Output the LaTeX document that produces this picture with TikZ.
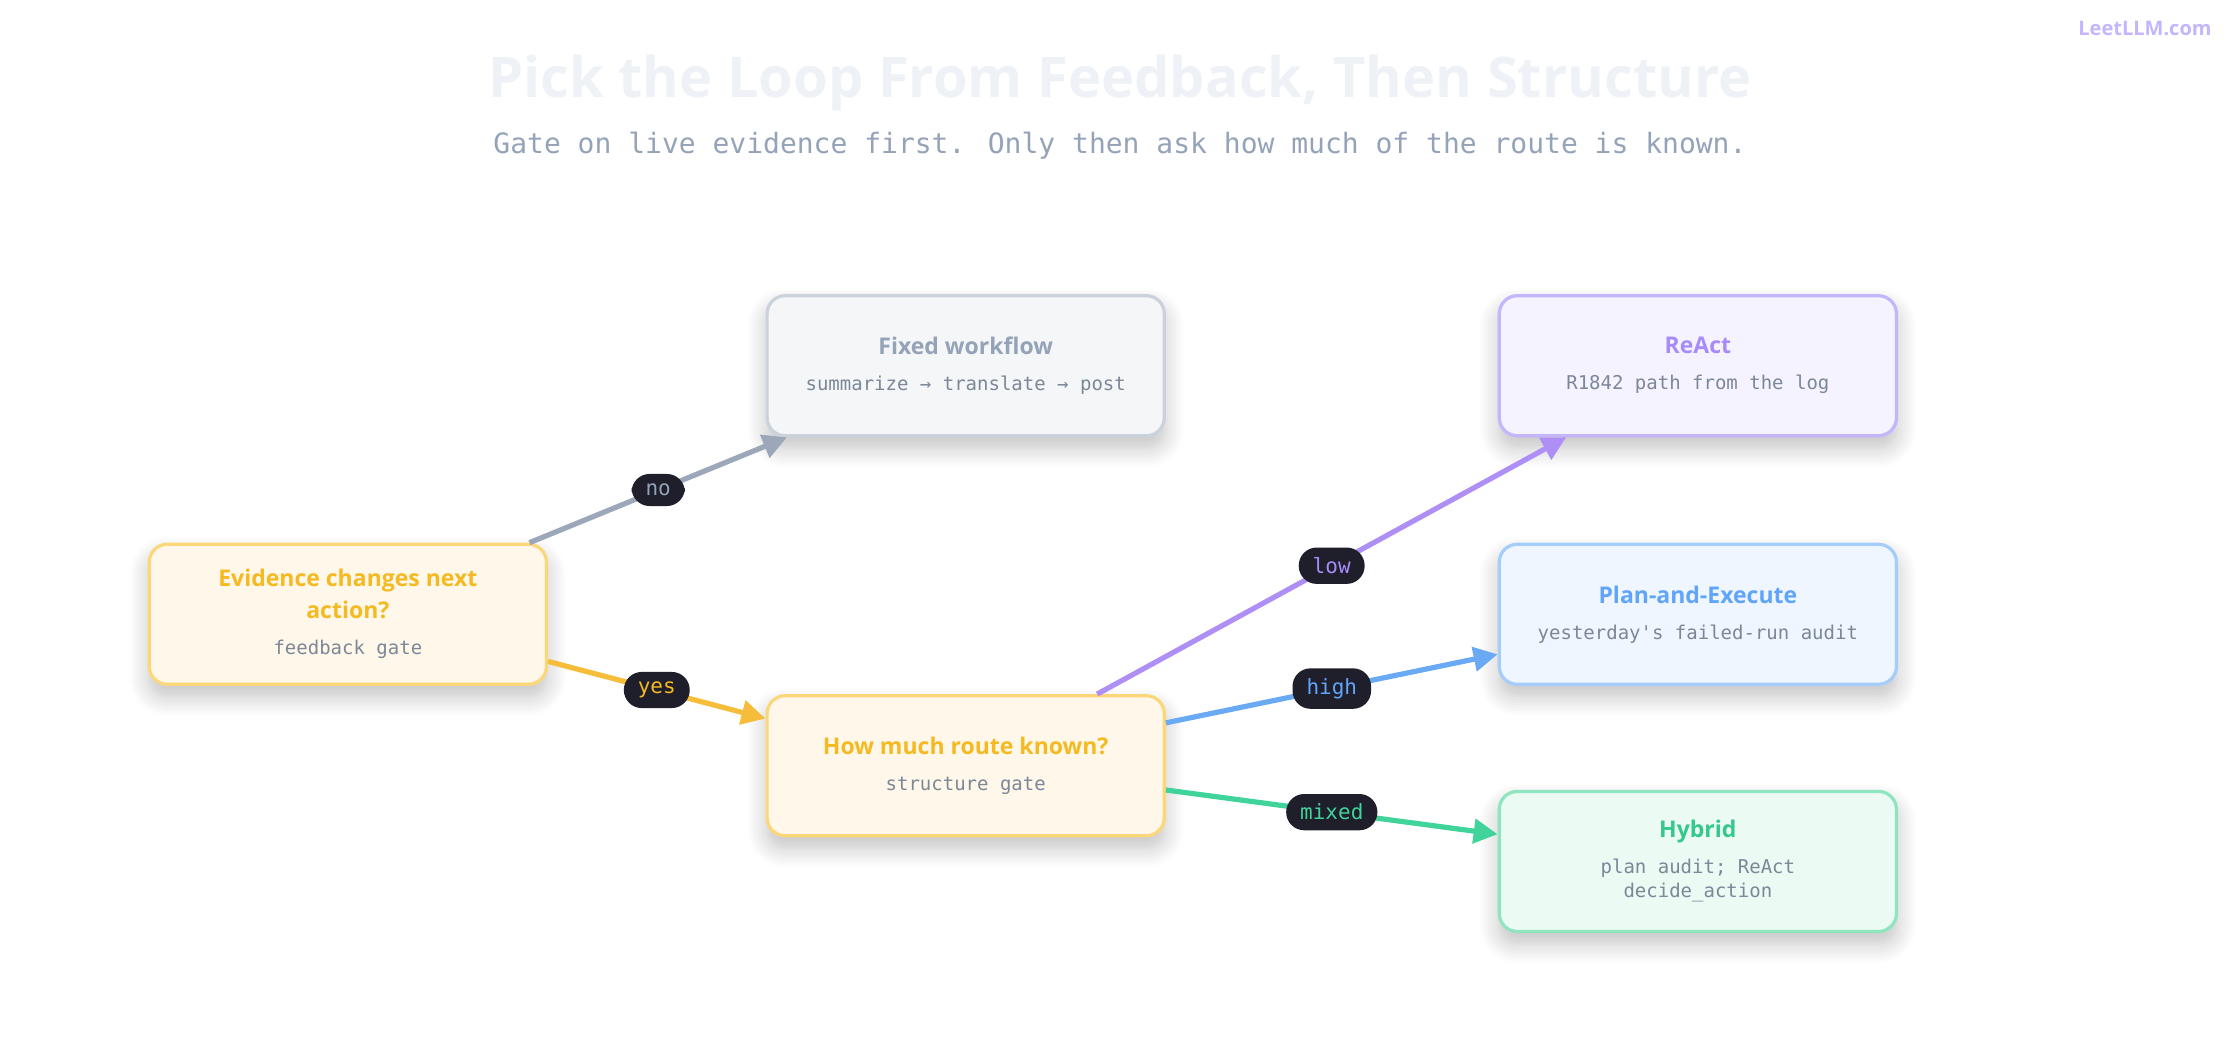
\documentclass[tikz,border=0pt]{standalone}
\usepackage{fontspec}
\setmainfont{Open Sans}
\newfontfamily\mono{DejaVu Sans Mono}
\usetikzlibrary{calc,shadows.blur,arrows.meta}
\definecolor{ttl}{HTML}{EEF2F7}
\definecolor{sub}{HTML}{94A3B8}
\definecolor{ylf}{HTML}{FFF8EA}\definecolor{yls}{HTML}{FCD77A}\definecolor{ylt}{HTML}{F5B921}\definecolor{yle}{HTML}{F5BD3A}
\definecolor{grf}{HTML}{F4F6F8}\definecolor{grs}{HTML}{CBD2DC}\definecolor{grt}{HTML}{94A3B8}\definecolor{gre}{HTML}{9CA8B9}
\definecolor{puf}{HTML}{F5F3FF}\definecolor{pus}{HTML}{C4B5FD}\definecolor{put}{HTML}{A78BFA}\definecolor{pue}{HTML}{AD8FF5}
\definecolor{blf}{HTML}{EFF6FF}\definecolor{bls}{HTML}{A5CDFA}\definecolor{blt}{HTML}{60A5FA}\definecolor{ble}{HTML}{6AAAF4}
\definecolor{gnf}{HTML}{ECFAF4}\definecolor{gns}{HTML}{8EE5C0}\definecolor{gnt}{HTML}{34C98A}\definecolor{gne}{HTML}{40D39A}
\definecolor{lbl}{HTML}{1E1F2B}\definecolor{body}{HTML}{7C8797}
\newcommand\hdf{\bfseries\fontsize{11.5}{14}\selectfont}
\newcommand\bdf{\mono\fontsize{9.5}{12}\selectfont\color{body}}
\begin{document}
\begin{tikzpicture}[x=0.714285pt,y=-0.714285pt,
 box/.style={draw,line width=1.6pt,rounded corners=9pt,minimum width=198.6pt,minimum height=70pt,
   align=center,blur shadow={shadow xshift=0pt,shadow yshift=-6pt,shadow blur steps=8,shadow opacity=25,shadow blur radius=10pt},inner sep=0pt},
 edge/.style={line width=2.6pt,-{Triangle[length=12pt,width=12pt]}},
 lab/.style={fill=lbl,rounded corners=9pt,font=\mono\fontsize{10.5}{12}\selectfont,inner xsep=7pt,inner ysep=5pt}]
\useasboundingbox (0,0) rectangle (1568,728);
\node[font=\bfseries\fontsize{28}{32}\selectfont,text=ttl] (title) at (784,58) {Pick the Loop From Feedback, Then Structure};
\node[font=\mono\fontsize{14}{16}\selectfont,text=sub] (subt) at (784,102) {Gate on live evidence first. Only then ask how much of the route is known.};
\node[font=\bfseries\fontsize{10}{12}\selectfont,text=pus,anchor=east] (logo) at (1553,20) {LeetLLM.com};
\node[box,fill=ylf,draw=yls] (ev) at (243.5,430) {{\hdf\color{ylt}Evidence changes next}\\[4pt]{\hdf\color{ylt}action?}\\[6pt]{\bdf feedback gate}};
\node[box,fill=grf,draw=grs] (fx) at (676,256) {{\hdf\color{grt}Fixed workflow}\\[6pt]{\bdf summarize → translate → post}};
\node[box,fill=ylf,draw=yls] (hw) at (676,536) {{\hdf\color{ylt}How much route known?}\\[6pt]{\bdf structure gate}};
\node[box,fill=puf,draw=pus] (ra) at (1188.5,256) {{\hdf\color{put}ReAct}\\[6pt]{\bdf R1842 path from the log}};
\node[box,fill=blf,draw=bls] (pe) at (1188.5,430) {{\hdf\color{blt}Plan-and-Execute}\\[6pt]{\bdf yesterday's failed-run audit}};
\node[box,fill=gnf,draw=gns] (hy) at (1188.5,603) {{\hdf\color{gnt}Hybrid}\\[6pt]{\bdf plan audit; ReAct}\\{\bdf decide\_action}};
\draw[edge,gre] ($(ev.north east)+(-13,0)$) -- node[lab,text=grt]{no} ($(fx.south west)+(15,0)$);
\draw[edge,yle] ($(ev.east)+(0,33)$) -- node[lab,text=ylt,pos=0.5]{yes} ($(hw.west)+(0,-33)$);
\draw[edge,pue] ($(hw.north)+(92,0)$) -- node[lab,text=put,pos=0.5]{low} ($(ra.south west)+(48,0)$);
\draw[edge,ble] ($(hw.east)+(0,-30)$) -- node[lab,text=blt,pos=0.5]{high} ($(pe.west)+(0,28)$);
\draw[edge,gne] ($(hw.east)+(0,17)$) -- node[lab,text=gne,pos=0.5]{mixed} ($(hy.west)+(0,-19)$);
\end{tikzpicture}
\end{document}
